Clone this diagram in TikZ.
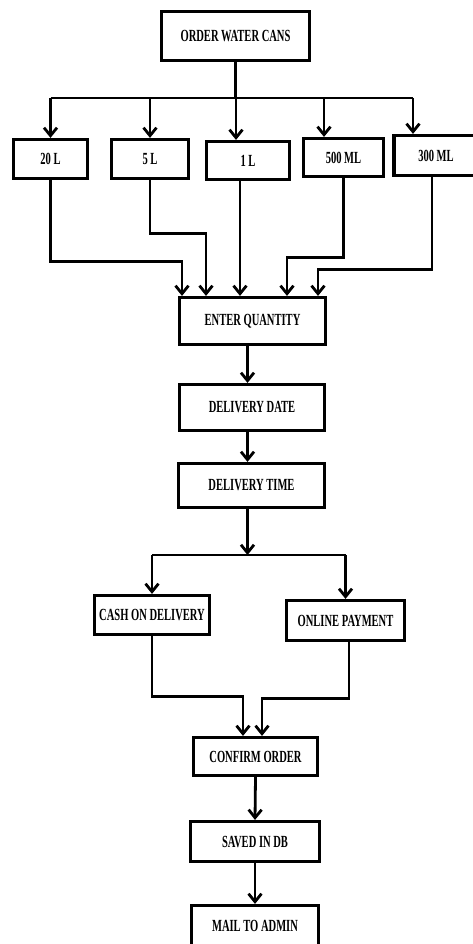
\documentclass[tikz,border=0pt]{standalone}
\usepackage{fontspec}
\setmainfont{Liberation Serif}[FakeStretch=0.62]
\usetikzlibrary{arrows.meta}

\begin{document}
\begin{tikzpicture}[x=1pt, y=-1pt, >={Straight Barb[length=8pt,width=13pt]},
  box/.style={draw, line width=3.2pt, inner sep=0pt, font=\fontsize{17}{18}\selectfont\bfseries},
  link/.style={line width=2.8pt},
  arr/.style={link, ->}]
  \useasboundingbox (0,0) rectangle (472,944);
  % order box
  \node[box, minimum width=148pt, minimum height=49pt] (order) at (235.5,36) {ORDER WATER CANS};
  % can sizes
  \node[box, minimum width=74pt, minimum height=39pt] (l20) at (50.5,159) {20 L};
  \node[box, minimum width=77pt, minimum height=39pt] (l5) at (150,159) {5 L};
  \node[box, minimum width=83pt, minimum height=38pt] (l1) at (248,160.5) {1 L};
  \node[box, minimum width=80pt, minimum height=38pt] (ml500) at (343.5,157.5) {500 ML};
  \node[box, minimum width=84pt, minimum height=40pt] (ml300) at (436,155.5) {300 ML};
  % order steps
  \node[box, minimum width=146pt, minimum height=47pt] (qty) at (252.5,321) {ENTER QUANTITY};
  \node[box, minimum width=145pt, minimum height=46pt] (date) at (252,407.5) {DELIVERY DATE};
  \node[box, minimum width=146pt, minimum height=44pt] (time) at (251.5,485.5) {DELIVERY TIME};
  % payment
  \node[box, minimum width=115pt, minimum height=39pt] (cash) at (152,615) {CASH ON DELIVERY};
  \node[box, minimum width=118pt, minimum height=40pt] (online) at (345.5,620.5) {ONLINE PAYMENT};
  % final steps
  \node[box, minimum width=124pt, minimum height=38pt] (confirm) at (255.5,756.5) {CONFIRM ORDER};
  \node[box, minimum width=129pt, minimum height=40pt] (saved) at (255,841.5) {SAVED IN DB};
  \node[box, minimum width=127pt, minimum height=40pt] (mail) at (255,925.5) {MAIL TO ADMIN};

  % split to can sizes
  \coordinate (split) at (236,98);
  \coordinate (s1) at ([xshift=-12pt]l1.north);
  \coordinate (s500) at ([xshift=-19.5pt]ml500.north);
  \coordinate (s300) at ([xshift=-23pt]ml300.north);
  \draw[link] (order.south) -- (order.south |- split);
  \draw[link] (l20.north |- split) -- (s300 |- split);
  \draw[arr] (l20.north |- split) -- (l20.north);
  \draw[arr] (l5.north |- split) -- (l5.north);
  \draw[arr] (s1 |- split) -- (s1);
  \draw[arr] (s500 |- split) -- (s500);
  \draw[arr] (s300 |- split) -- (s300);

  % can sizes to quantity
  \coordinate (q1) at ([xshift=-70.5pt]qty.north);
  \coordinate (q2) at ([xshift=-46.5pt]qty.north);
  \coordinate (q3) at ([xshift=-12.5pt]qty.north);
  \coordinate (q4) at ([xshift=34.5pt]qty.north);
  \coordinate (q5) at ([xshift=65.5pt]qty.north);
  \draw[arr] (l20.south) -- ++(0,81.5) -| (q1);
  \draw[arr] (l5.south) -- ++(0,53.5) -| (q2);
  \draw[arr] (q3 |- l1.south) -- (q3);
  \draw[arr] (ml500.south) -- ++(0,79.5) -| (q4);
  \draw[arr] ([xshift=-4pt]ml300.south) -- ++(0,92.5) -| (q5);

  % quantity, date, time
  \coordinate (a1) at ([xshift=-5pt]qty.south);
  \draw[arr] (a1) -- (a1 |- date.north);
  \draw[arr] (a1 |- date.south) -- (a1 |- time.north);

  % split to payment
  \coordinate (pay) at (247.5,555);
  \draw[arr] (time.south -| pay) -- (pay);
  \draw[link] (cash.north |- pay) -- (online.north |- pay);
  \draw[arr] (cash.north |- pay) -- (cash.north);
  \draw[arr] (online.north |- pay) -- (online.north);

  % payment to confirm
  \coordinate (c1) at ([xshift=-12.5pt]confirm.north);
  \coordinate (c2) at ([xshift=6.5pt]confirm.north);
  \draw[arr] (cash.south) -- ++(0,60.5) -| (c1);
  \draw[arr] ([xshift=3.5pt]online.south) -- ++(0,56.5) -| (c2);

  % confirm, save, mail
  \draw[arr] (confirm.south) -- (saved.north);
  \draw[arr] (saved.south) -- (mail.north);
\end{tikzpicture}
\end{document}
